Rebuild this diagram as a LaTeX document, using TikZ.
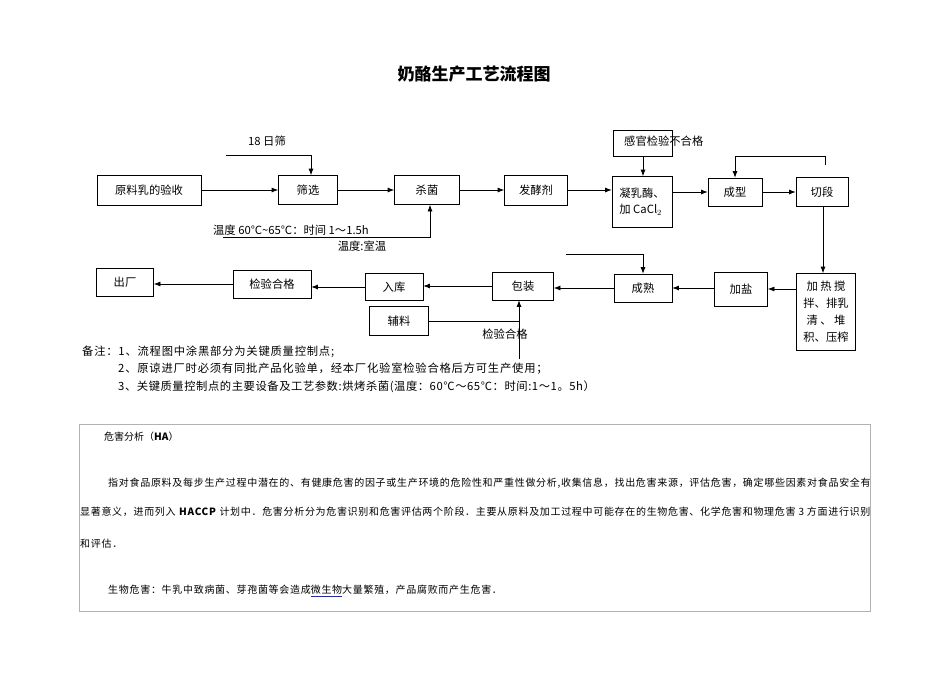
\documentclass[tikz,border=0pt]{standalone}
\usepackage{fontspec}
\usepackage{xcolor}
\setmainfont{Noto Sans CJK SC}
\usetikzlibrary{arrows.meta, positioning}
\definecolor{linkblue}{RGB}{40,40,160}
\newcommand{\lsp}[1]{\addfontfeature{LetterSpace=#1}}

\begin{document}
\begin{tikzpicture}[x=1pt, y=-1pt, font=\fontsize{11.3}{13}\selectfont,
        box/.style={draw, line width=0.75pt, inner sep=0pt},
        flow/.style={-{Latex[length=6.5pt,width=5pt]}, line width=0.75pt},
        txt/.style={inner sep=0pt, anchor=west}]
        \useasboundingbox (0,0) rectangle (950,672);
        \node[inner sep=0pt, font=\fontsize{17}{20}\selectfont\bfseries] (title) at (474,74) {奶酪生产工艺流程图};

        \node[box, minimum width=104, minimum height=30] (yl) at (149,190) {原料乳的验收};
        \node[box, minimum width=59, minimum height=29] (sx) at (308,190) {筛选};
        \node[box, minimum width=65, minimum height=29] (sj) at (427,190) {杀菌};
        \node[box, minimum width=63, minimum height=30] (fj) at (536,190) {发酵剂};
        \node[box, minimum width=60, minimum height=51, align=left] (nr) at (642,202) {凝乳酶、\\[3pt]加 CaCl$_2$};
        \node[box, minimum width=59, minimum height=26] (gg) at (643,143) {};
        \node[txt] (ggt) at (624,141) {感官检验不合格};
        \node[box, minimum width=54, minimum height=28] (cx) at (735,192) {成型};
        \node[box, minimum width=52, minimum height=29] (qd) at (822,192) {切段};
        \node[box, minimum width=59, minimum height=77, align=center] (jr) at (826,312) {加 热 搅\\[4pt]拌、排乳\\[4pt]清 、 堆\\[4pt]积、压榨};
        \node[box, minimum width=53, minimum height=34] (jy) at (741,289) {加盐};
        \node[box, minimum width=58, minimum height=28] (cs) at (643,288) {成熟};
        \node[box, minimum width=61, minimum height=28] (bz) at (523,286) {包装};
        \node[box, minimum width=58, minimum height=27] (rk) at (394,287) {入库};
        \node[box, minimum width=78, minimum height=28] (jy2) at (272,284) {检验合格};
        \node[box, minimum width=57, minimum height=28] (cc) at (125,282) {出厂};
        \node[box, minimum width=59, minimum height=29] (fl) at (399,321) {辅料};

        \draw[flow] (yl) -- (sx);
        \draw[flow] (sx) -- (sj);
        \draw[flow] (sj) -- (fj);
        \draw[flow] (fj.east) -- (fj.east -| nr.west);
        \draw[flow] (nr.east |- cx) -- (cx);
        \draw[flow] (cx) -- (qd);
        \draw[flow] ([xshift=1pt]qd.south) -- ([xshift=1pt]qd.south |- jr.north);
        \draw[flow] (jr.west |- jy) -- (jy);
        \draw[flow] (jy.west |- cs) -- (cs);
        \draw[flow] (cs.west) -- (cs.west -| bz.east);
        \draw[flow] (bz.west) -- (bz.west -| rk.east);
        \draw[flow] (rk.west) -- (rk.west -| jy2.east);
        \draw[flow] (jy2.west) -- (jy2.west -| cc.east);
        \draw[flow] (gg) -- (gg |- nr.north);

        \coordinate (s0) at (226,155);
        \node[inner sep=0pt] (t18) at (267,141) {18 日筛};
        \draw[flow] (s0) -| ([xshift=3pt]sx.north);

        \coordinate (w0) at (223,237);
        \node[inner sep=0pt] (tw) at (291,230) {温度 60℃\textasciitilde 65℃：时间 1～1.5h};
        \node[inner sep=0pt] (tr) at (362,246) {温度:室温};
        \draw[flow] (w0) -| ([xshift=3pt]sj.south);

        \coordinate (q0) at (825,156);
        \draw[flow] ([xshift=3pt,yshift=12pt]qd.north) |- (q0 -| cx) -- (cx.north);

        \coordinate (c0) at (566,254);
        \draw[flow] (c0) -| (cs.north);

        \coordinate (b0) at (519,359);
        \node[inner sep=0pt] (tjy) at (505,334) {检验合格};
        \draw[line width=0.75pt] (fl.east) -- (fl.east -| b0);
        \draw[flow] (b0) -- (b0 |- bz.south);

        \node[txt] (n1) at (82,352) {\lsp{7}备注：1、流程图中涂黑部分为关键质量控制点;};
        \node[txt] (n2) at (118,369) {\lsp{7}2、原谅进厂时必须有同批产品化验单，经本厂化验室检验合格后方可生产使用；};
        \node[txt] (n3) at (118,387) {\lsp{5}3、关键质量控制点的主要设备及工艺参数:烘烤杀菌(温度：60℃～65℃：时间:1～1。5h）};

        \draw[black!30, line width=0.6pt] (79,424) rectangle (870,611);
        \begin{scope}[font=\fontsize{10}{12}\selectfont]
        \node[txt] (ha) at (104,437) {危害分析（\textbf{HA}）};
        \node[txt] (p1) at (108,483) {\lsp{7}指对食品原料及每步生产过程中潜在的、有健康危害的因子或生产环境的危险性和严重性做分析,收集信息，找出危害来源，评估危害，确定哪些因素对食品安全有};
        \node[txt] (p2) at (80,512) {\lsp{6.8}显著意义，进而列入 \textbf{HACCP} 计划中．危害分析分为危害识别和危害评估两个阶段．主要从原料及加工过程中可能存在的生物危害、化学危害和物理危害 3 方面进行识别};
        \node[txt] (p3) at (80,544) {\lsp{7}和评估．};
        \node[txt] (p4) at (108,591) {\lsp{7}生物危害：牛乳中致病菌、芽孢菌等会造成{\color{linkblue}\underline{\color{black}微生物}}大量繁殖，产品腐败而产生危害．};
        \end{scope}
    \end{tikzpicture}
\end{document}
